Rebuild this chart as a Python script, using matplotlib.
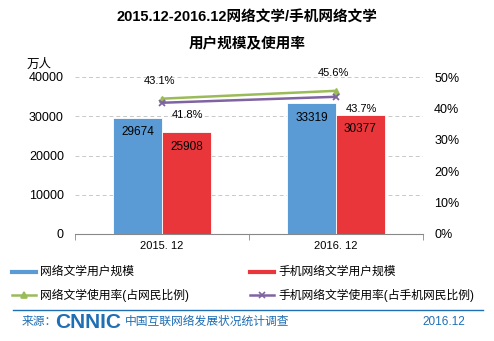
import matplotlib
matplotlib.use("Agg")
import matplotlib.pyplot as plt
from matplotlib.lines import Line2D
import numpy as np

plt.rcParams['font.family'] = ['Liberation Sans', 'Noto Sans CJK SC', 'DejaVu Sans']

categories = ["2015. 12", "2016. 12"]
lit_users = [29674, 33319]
mobile_lit_users = [25908, 30377]
lit_rate = [43.1, 45.6]
mobile_lit_rate = [41.8, 43.7]
left_ticks = [0, 10000, 20000, 30000, 40000]
right_ticks = [0, 10, 20, 30, 40, 50]

title1 = "2015.12-2016.12网络文学/手机网络文学"
title2 = "用户规模及使用率"
legend_labels = ["网络文学用户规模", "手机网络文学用户规模",
                 "网络文学使用率(占网民比例)", "手机网络文学使用率(占手机网民比例)"]

BLUE = "#5b9bd5"
RED = "#e8363b"
GREEN = "#9bbb59"
PURPLE = "#8064a2"
FOOT = "#1f6fb5"

W, H = 494, 341
fig = plt.figure(figsize=(W/100, H/100), dpi=100)

ax = fig.add_axes([75/W, 1-234/H, (423-75)/W, (234-77)/H])
x = np.arange(len(categories))
bw = 0.28
b1 = ax.bar(x - bw/2, lit_users, bw, color=BLUE, edgecolor='white', linewidth=0.6, zorder=3)
b2 = ax.bar(x + bw/2, mobile_lit_users, bw, color=RED, edgecolor='white', linewidth=0.6, zorder=3)
for rect, v in zip(b1, lit_users):
    ax.annotate(str(v), (rect.get_x() + rect.get_width()/2, v), xytext=(0, -6),
                textcoords='offset points', ha='center', va='top', fontsize=8.5, zorder=5)
for rect, v in zip(b2, mobile_lit_users):
    ax.annotate(str(v), (rect.get_x() + rect.get_width()/2, v), xytext=(0, -6),
                textcoords='offset points', ha='center', va='top', fontsize=8.5, zorder=5)

ax.set_xlim(-0.5, 1.5)
ax.set_ylim(0, 40000)
ax.set_yticks(left_ticks)
ax.set_yticklabels([str(t) for t in left_ticks], fontsize=9)
ax.set_xticks(x)
ax.set_xticklabels(categories, fontsize=8)
ax.set_xticks([-0.5, 0.5, 1.5], minor=True)
ax.tick_params(axis='x', which='major', length=0, pad=5)
ax.tick_params(axis='x', which='minor', length=4, color='#888888')
ax.tick_params(axis='y', length=0, pad=8)
for s in ['top', 'right', 'left']:
    ax.spines[s].set_visible(False)
ax.spines['bottom'].set_color('#888888')
ax.yaxis.grid(True, linestyle=(0, (4, 3)), color='#c8c8c8', linewidth=0.7)
ax.set_axisbelow(True)

ax2 = ax.twinx()
ax2.set_ylim(0, 50)
ax2.set_yticks(right_ticks)
ax2.set_yticklabels([f"{t}%" for t in right_ticks], fontsize=9)
ax2.tick_params(axis='y', length=0, pad=8)
for s in ['top', 'right', 'left', 'bottom']:
    ax2.spines[s].set_visible(False)
ax2.plot(x, lit_rate, color=GREEN, linewidth=1.8, marker='^', markersize=5, zorder=4)
ax2.plot(x, mobile_lit_rate, color=PURPLE, linewidth=1.8, marker='x', markersize=5,
         markeredgewidth=1.3, zorder=4)
for xi, v in zip(x, lit_rate):
    ax2.annotate(f"{v}%", (xi, v), xytext=(-2, 9), textcoords='offset points',
                 ha='center', va='bottom', fontsize=8)
for xi, v in zip(x, mobile_lit_rate):
    ax2.annotate(f"{v}%", (xi, v), xytext=(7, -5), textcoords='offset points',
                 ha='left', va='top', fontsize=8)

fig.text(39/W, 1-65/H, "万人", ha='center', va='center', fontsize=9)

fig.text(0.5, 1-17/H, title1, ha='center', va='center', fontsize=10.5, fontweight='bold')
fig.text(0.5, 1-43/H, title2, ha='center', va='center', fontsize=10.5, fontweight='bold')

# legend
def leg_item(x0, y0, color, label, marker=None, lw=3.0):
    fig.add_artist(Line2D([x0/W, (x0+24)/W], [1-y0/H, 1-y0/H], color=color, linewidth=lw))
    if marker:
        fig.add_artist(Line2D([(x0+12)/W], [1-y0/H], color=color, marker=marker,
                              markersize=5, markeredgewidth=1.2, linestyle='none'))
    fig.text((x0+28)/W, 1-y0/H, label, ha='left', va='center', fontsize=8.5)

leg_item(12, 272, BLUE, legend_labels[0])
leg_item(250, 272, RED, legend_labels[1])
leg_item(12, 295, GREEN, legend_labels[2], marker='^', lw=1.8)
leg_item(250, 295, PURPLE, legend_labels[3], marker='x', lw=1.8)

fig.add_artist(Line2D([13/W, 483/W], [1-310/H, 1-310/H], color=FOOT, linewidth=1.0))
fig.text(22/W, 1-322/H, "来源：", ha='left', va='center', fontsize=8.5, color=FOOT)
fig.text(55/W, 1-322/H, "CNNIC", ha='left', va='center', fontsize=15, fontweight='bold',
         color=FOOT)
fig.text(125/W, 1-322/H, "中国互联网络发展状况统计调查", ha='left', va='center', fontsize=8.5,
         color=FOOT)
fig.text(465/W, 1-322/H, "2016.12", ha='right', va='center', fontsize=8.5, color=FOOT)

fig.savefig("out.png", dpi=100)
